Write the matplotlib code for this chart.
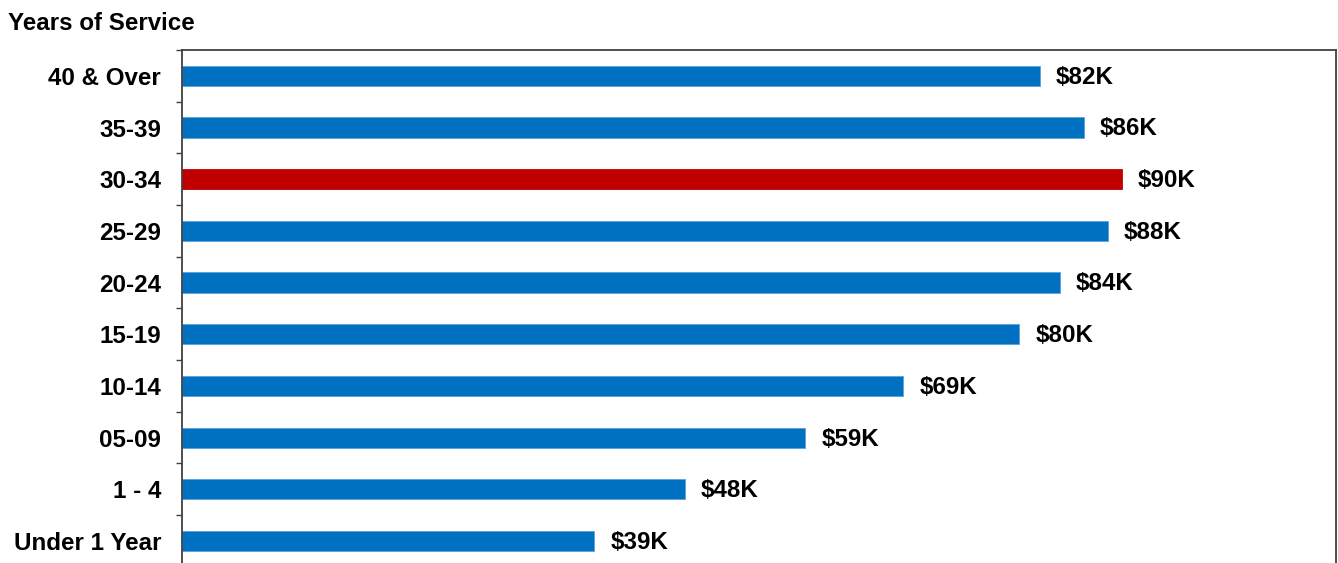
import matplotlib
matplotlib.use('Agg')
import matplotlib.pyplot as plt
import numpy as np

plt.rcParams['font.family'] = ['Liberation Sans', 'DejaVu Sans']

# categories top to bottom
groups = ['40 & Over', '35-39', '30-34', '25-29', '20-24',
          '15-19', '10-14', '05-09', '1 - 4', 'Under 1 Year']
# average pay in $K
pay = [82.2, 86.4, 90.0, 88.7, 84.1, 80.2, 69.1, 59.7, 48.2, 39.5]
pay_labels = ['$82K', '$86K', '$90K', '$88K', '$84K',
              '$80K', '$69K', '$59K', '$48K', '$39K']
highlight = '30-34'

BLUE = '#0070C0'
RED = '#C00000'
FS = 17.4

fig = plt.figure(figsize=(13.38, 5.63), dpi=100)
ax = fig.add_axes([182 / 1338, -0.0068, (1335.5 - 182) / 1338, 0.9180])

y = np.arange(len(groups))
colors = [RED if g == highlight else BLUE for g in groups]
ax.barh(y, pay, height=0.39, color=colors, edgecolor='#5BA3DC',
        linewidth=0.6)
# red bar without light edge
for bar, g in zip(ax.patches, groups):
    if g == highlight:
        bar.set_edgecolor(RED)

for yi, v, lab in zip(y, pay, pay_labels):
    ax.annotate(lab, (v, yi), xytext=(11.5, -1), textcoords='offset points',
                ha='left', va='center', fontsize=FS, fontweight='bold')

ax.set_xlim(0, 110.5)
ax.set_ylim(len(groups) - 0.5, -0.5)

ax.set_yticks(y)
ax.set_yticklabels(groups, fontsize=FS, fontweight='bold')
ax.tick_params(axis='y', which='major', length=0, pad=15)
ax.set_yticks(np.arange(-0.5, len(groups), 1), minor=True)
ax.tick_params(axis='y', which='minor', length=4.5, width=1.0,
               color='#404040', direction='out')
ax.set_xticks([])

for s in ax.spines.values():
    s.set_color('#404040')
    s.set_linewidth(1.3)

fig.text(8 / 1338, 1 - 30 / 563, 'Years of Service', fontsize=FS,
         fontweight='bold', ha='left', va='baseline')

fig.savefig('out.png', dpi=100)
